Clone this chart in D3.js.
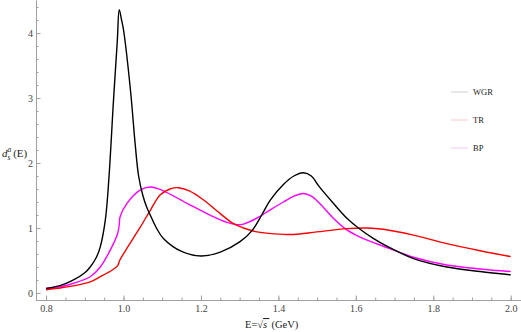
<!DOCTYPE html>
<html>
<head>
<meta charset="utf-8">
<script src="https://cdn.jsdelivr.net/npm/d3@7"></script>
<style>
  body { margin: 0; background: #fff; }
  .axis path, .axis line { stroke: #a0a0a0; }
</style>
</head>
<body>
<div id="chart"></div>
<script>
// data
var wgrE = [0.8, 0.84, 0.871, 0.9, 0.914, 0.93, 0.94, 0.953, 0.962, 0.974, 0.984, 0.989, 0.995, 1.0, 1.018, 1.03, 1.039, 1.05, 1.06, 1.069, 1.085, 1.103, 1.15, 1.2, 1.25, 1.301, 1.332, 1.357, 1.379, 1.413, 1.44, 1.465, 1.485, 1.505, 1.542, 1.577, 1.611, 1.645, 1.68, 1.749, 1.835, 1.921, 2.0];
var wgrV = [0.07, 0.12, 0.2, 0.31, 0.4, 0.55, 0.71, 1.12, 1.74, 2.95, 3.88, 4.36, 4.2, 4.05, 3.12, 2.3, 1.8, 1.5, 1.32, 1.2, 1.0, 0.84, 0.64, 0.57, 0.63, 0.79, 0.96, 1.2, 1.43, 1.67, 1.8, 1.85, 1.8, 1.64, 1.38, 1.15, 0.98, 0.84, 0.72, 0.53, 0.4, 0.33, 0.28];

var trE = [0.8, 0.84, 0.871, 0.914, 0.94, 0.97, 0.985, 0.99, 1.009, 1.042, 1.07, 1.095, 1.12, 1.142, 1.17, 1.207, 1.24, 1.283, 1.31, 1.345, 1.39, 1.439, 1.499, 1.577, 1.63, 1.671, 1.749, 1.835, 1.921, 2.0];
var trV = [0.05, 0.08, 0.11, 0.17, 0.25, 0.35, 0.42, 0.5, 0.69, 1.0, 1.28, 1.51, 1.6, 1.62, 1.57, 1.43, 1.27, 1.07, 1.0, 0.94, 0.91, 0.9, 0.94, 0.99, 1.0, 0.98, 0.89, 0.76, 0.65, 0.56];

var bpE = [0.8, 0.84, 0.871, 0.914, 0.94, 0.97, 0.985, 0.989, 0.991, 1.009, 1.042, 1.069, 1.1, 1.164, 1.233, 1.265, 1.293, 1.31, 1.327, 1.35, 1.379, 1.413, 1.44, 1.465, 1.485, 1.505, 1.542, 1.577, 1.611, 1.68, 1.749, 1.835, 1.921, 2.0];
var bpV = [0.07, 0.1, 0.15, 0.25, 0.4, 0.71, 0.92, 1.05, 1.17, 1.38, 1.58, 1.63, 1.58, 1.38, 1.17, 1.09, 1.05, 1.06, 1.1, 1.17, 1.28, 1.4, 1.49, 1.53, 1.49, 1.39, 1.15, 0.97, 0.86, 0.7, 0.55, 0.43, 0.37, 0.33];

var seriesNames = ["WGR", "TR", "BP"];
var seriesColors = ["#000000", "#ff0000", "#ff00ff"];
var legendColors = ["#d0d0d0", "#f6c8c8", "#f6c8f6"];
var xTicks = [0.8, 1.0, 1.2, 1.4, 1.6, 1.8, 2.0];
var yTicks = [0, 1, 2, 3, 4];

var serif = "'Liberation Serif', 'Times New Roman', 'DejaVu Serif', serif";

//Set sizes
var width = 521, height = 332;
var margin = {top: 0, right: 0, bottom: 32, left: 36};

var svg = d3.select("#chart").append("svg")
  .attr("width", width)
  .attr("height", height)
  .style("display", "block");

var x = d3.scaleLinear().domain([0.774, 2.0266]).range([margin.left, width - margin.right]);
var y = d3.scaleLinear().domain([-0.108, 4.508]).range([height - margin.bottom, margin.top]);

//Axes, ticks point inward like Mathematica
var xMinor = d3.range(0.8, 2.0001, 0.05);
var yMinor = d3.range(0, 4.5001, 0.2);

function styleAxis(g) {
  g.attr("font-family", serif).attr("font-size", 10);
  g.selectAll("text").attr("fill", "#444");
}

svg.append("g").attr("class", "axis")
  .attr("transform", "translate(0," + y.range()[0] + ")")
  .call(d3.axisBottom(x).tickValues(xMinor).tickSizeInner(-2.5).tickSizeOuter(0).tickFormat(""));
svg.append("g").attr("class", "axis")
  .attr("transform", "translate(0," + y.range()[0] + ")")
  .call(d3.axisBottom(x).tickValues(xTicks).tickSizeInner(-4.5).tickSizeOuter(0).tickPadding(4.5)
    .tickFormat(d3.format(".1f")))
  .call(styleAxis);

svg.append("g").attr("class", "axis")
  .attr("transform", "translate(" + x.range()[0] + ",0)")
  .call(d3.axisLeft(y).tickValues(yMinor).tickSizeInner(-2.5).tickSizeOuter(0).tickFormat(""));
svg.append("g").attr("class", "axis")
  .attr("transform", "translate(" + x.range()[0] + ",0)")
  .call(d3.axisLeft(y).tickValues(yTicks).tickSizeInner(-4.5).tickSizeOuter(0).tickPadding(3)
    .tickFormat(d3.format("d")))
  .call(styleAxis);

//Curves
var line = d3.line()
  .x(function(d) { return x(d[0]); })
  .y(function(d) { return y(d[1]); })
  .curve(d3.curveCatmullRom.alpha(0.5));

var allSeries = [d3.zip(wgrE, wgrV), d3.zip(trE, trV), d3.zip(bpE, bpV)];
// draw order: magenta, red, black on top
[2, 1, 0].forEach(function(i) {
  svg.append("path")
    .datum(allSeries[i])
    .attr("fill", "none")
    .attr("stroke", seriesColors[i])
    .attr("stroke-width", 1.4)
    .attr("d", line);
});

//Legend
var legend = svg.append("g").attr("transform", "translate(451,92)");
seriesNames.forEach(function(name, i) {
  legend.append("line")
    .attr("x1", 0).attr("x2", 17)
    .attr("y1", i * 28).attr("y2", i * 28)
    .attr("stroke", legendColors[i])
    .attr("stroke-width", 1);
  legend.append("text")
    .attr("x", 22).attr("y", i * 28 + 3)
    .attr("font-family", serif)
    .attr("font-size", 8.5)
    .attr("fill", "#222")
    .text(name);
});

//Axis labels
var ylab = svg.append("text")
  .attr("x", 2).attr("y", 157)
  .attr("font-family", serif)
  .attr("font-size", 11)
  .attr("fill", "#222");
ylab.append("tspan").attr("font-style", "italic").text("d");
ylab.append("tspan").attr("font-style", "italic").attr("font-size", 7.5).attr("dy", 3).text("s");
ylab.append("tspan").attr("font-style", "italic").attr("font-size", 7.5).attr("dx", -3).attr("dy", -8).text("a");
ylab.append("tspan").attr("dx", 2).attr("dy", 5).text("(E)");

var xlab = svg.append("text")
  .attr("x", 245).attr("y", 328)
  .attr("font-family", serif)
  .attr("font-size", 10.5)
  .attr("fill", "#222");
xlab.append("tspan").text("E=\u221A");
xlab.append("tspan").attr("font-style", "italic").style("text-decoration", "overline").text("s\u2009");
xlab.append("tspan").text("\u2009(GeV)");
</script>
</body>
</html>
